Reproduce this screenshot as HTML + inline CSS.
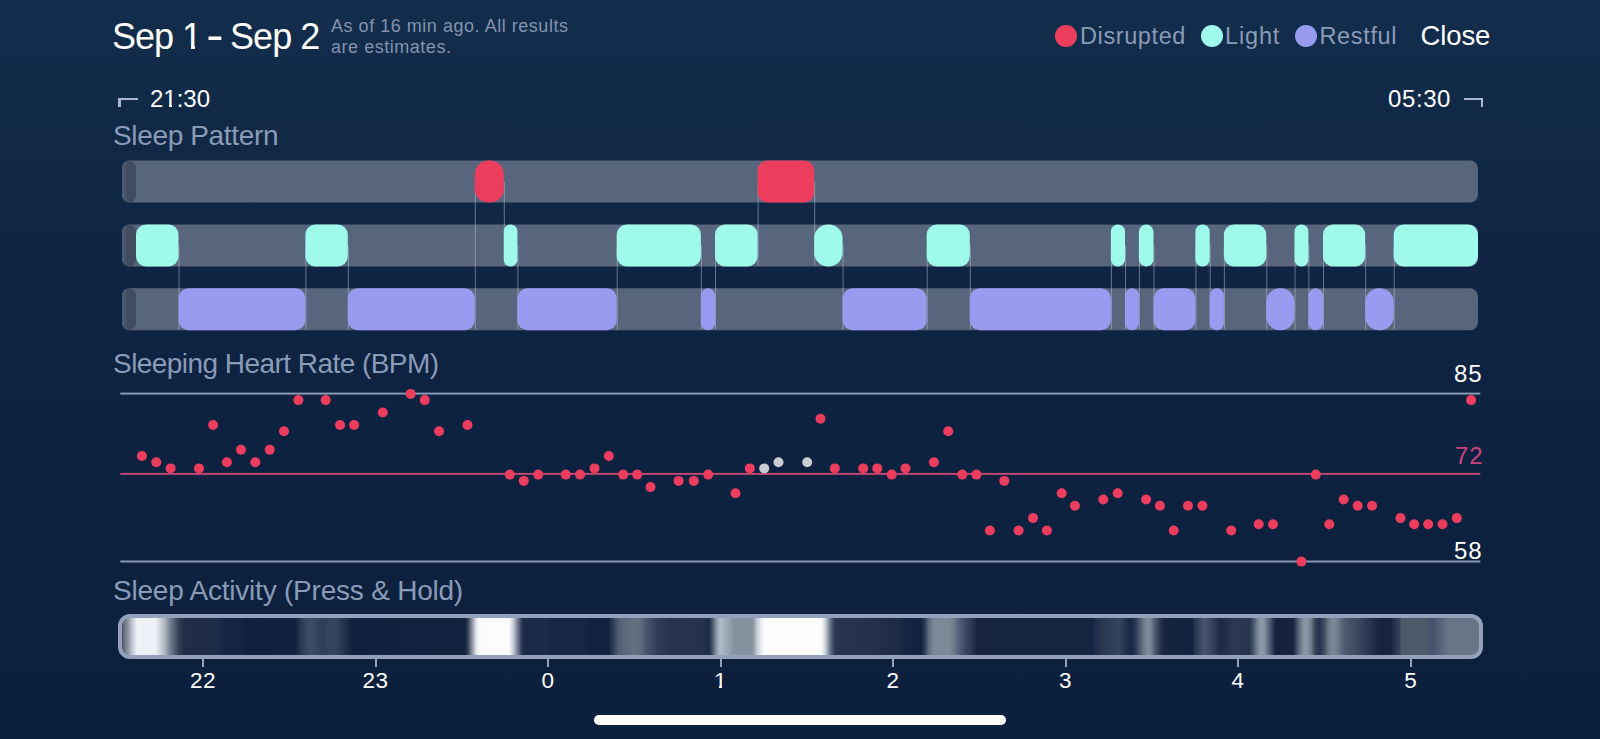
<!DOCTYPE html>
<html><head><meta charset="utf-8"><style>
html,body{margin:0;padding:0;}
body{width:1600px;height:739px;overflow:hidden;position:relative;background:linear-gradient(180deg,#132d4d 0%,#112a48 12%,#0f2543 35%,#0d2240 60%,#0c203d 100%);font-family:"Liberation Sans",sans-serif;}
.t{position:absolute;white-space:nowrap;line-height:1;}
.w{color:#ffffff;}
.g{color:#8a9bb8;}
.dot{position:absolute;border-radius:50%;width:22px;height:22px;top:25px;}
svg{position:absolute;left:0;top:0;}
.bar{position:absolute;left:117.5px;top:614px;width:1357px;height:37px;border:4px solid #94a1ba;border-radius:12px;background:linear-gradient(90deg,#4a4f5e 0.00%,#6e7382 0.18%,#8a8f9e 0.41%,#b0b5c2 0.63%,#d8dce6 0.92%,#eef1f6 1.11%,#eef0f5 2.47%,#e0e2ea 2.62%,#c5ccd4 2.91%,#a5aeba 3.21%,#848f9e 3.43%,#687588 3.65%,#4a586c 3.94%,#34425a 4.16%,#25334d 4.46%,#1f2d48 4.75%,#1f2d48 6.89%,#1b2a4a 7.26%,#142442 7.70%,#142442 8.73%,#0f1f3d 9.17%,#102040 12.79%,#1f2e4a 13.01%,#2e3d57 13.30%,#3a4962 13.67%,#3e4d66 13.96%,#374660 14.33%,#2f3e58 14.78%,#34435d 15.22%,#36455e 15.66%,#2e3c56 16.03%,#22304c 16.40%,#172643 16.76%,#0f203e 16.99%,#13223f 25.24%,#2a3850 25.46%,#6a7585 25.68%,#a8b0bc 25.90%,#e5e9ef 26.12%,#fafbfd 26.34%,#fcfcfd 28.48%,#e8ebef 28.63%,#c4cad3 28.85%,#8a93a3 29.07%,#56627a 29.29%,#2d3a53 29.44%,#1f2d4a 29.59%,#1b2a48 29.88%,#1b2a48 31.21%,#172746 31.58%,#172746 34.16%,#11213f 34.45%,#11213f 35.85%,#26344e 36.07%,#36445e 36.29%,#4e5b72 36.59%,#57647c 36.88%,#5d6a7c 37.25%,#627080 37.62%,#627080 37.99%,#58667a 38.36%,#4a5870 38.58%,#3e4c64 38.95%,#34425b 39.31%,#2c3a53 39.68%,#26344f 40.42%,#24324d 42.85%,#1d2a44 43.22%,#3a4860 43.44%,#6a7789 43.66%,#9aa6b6 43.88%,#b0bcc8 44.10%,#a5b0bd 44.40%,#9aa5b2 44.69%,#8a95a3 44.99%,#84909d 45.21%,#84909d 46.32%,#8f99a6 46.54%,#c0c6d0 46.76%,#dcdfe8 46.98%,#f3f4f8 47.20%,#fdfdfe 47.42%,#fdfdfe 51.47%,#eef2f5 51.62%,#c8d0d8 51.84%,#8a97a3 52.06%,#54627a 52.28%,#2e3b55 52.51%,#27344f 52.73%,#24314c 55.16%,#1c2a46 57.22%,#142442 57.74%,#12223f 58.84%,#1a2946 58.99%,#35455f 59.21%,#5a6a7d 59.43%,#6e7e8e 59.65%,#7a8a98 59.87%,#7b8996 61.05%,#758391 61.13%,#6b7888 61.35%,#5a6780 61.57%,#4c5a74 61.79%,#42506a 62.01%,#36445d 62.23%,#2e3c55 62.53%,#1f2d48 62.82%,#16243f 63.04%,#15253f 71.37%,#16264a 71.59%,#1d2c4a 71.74%,#273550 72.11%,#2b3a55 72.48%,#2f3e58 72.84%,#33425c 73.21%,#34435d 73.51%,#2a3852 73.80%,#1f2d4a 74.10%,#1a2848 74.39%,#2a3852 74.69%,#4a586f 74.98%,#6a7888 75.28%,#7e8b9a 75.57%,#7a8797 75.79%,#5a687c 76.01%,#3a4860 76.31%,#1f2d48 76.60%,#16243f 76.90%,#13223f 78.89%,#1f2d4a 78.96%,#2c3a55 79.18%,#3a4862 79.48%,#47556e 79.77%,#3d4b64 80.07%,#33415b 80.36%,#27354f 80.66%,#1d2b48 80.95%,#1f2d49 81.25%,#25334e 81.54%,#283650 81.83%,#2a3852 82.13%,#27354f 83.09%,#2f3d56 83.16%,#4a586d 83.38%,#6a788a 83.60%,#8593a3 83.82%,#8a98a8 84.05%,#7a8899 84.27%,#5a6880 84.49%,#3c4a63 84.71%,#1f2d48 84.93%,#15233f 85.08%,#15233f 86.26%,#23314c 86.40%,#4a586e 86.62%,#6a7888 86.85%,#8593a3 87.07%,#8a98a8 87.29%,#7a8899 87.51%,#6a7888 87.66%,#4a586e 87.80%,#2c3a54 88.03%,#26344e 88.25%,#33415b 88.47%,#4a586e 88.69%,#6a7888 88.91%,#7a8898 89.20%,#768494 89.43%,#6a7888 89.65%,#55637a 89.94%,#4a5870 90.24%,#44526a 90.53%,#3e4c64 90.90%,#36445e 91.27%,#2e3c56 91.64%,#24324d 92.00%,#1c2a46 92.37%,#16243f 92.74%,#16243f 93.48%,#1e2c48 93.63%,#2a3852 93.92%,#35435c 94.14%,#4a5868 94.29%,#4c5a6a 94.44%,#4c5a6a 96.06%,#49576c 96.28%,#45536c 96.50%,#485670 96.72%,#4f5d74 96.94%,#56647a 97.16%,#5f6d80 97.46%,#657385 97.75%,#677586 98.05%,#677586 100.04%);}
.tick{position:absolute;top:657px;width:2px;height:10px;background:#94a1ba;}
.tl{position:absolute;top:670.2px;width:60px;text-align:center;color:#fff;font-size:22.5px;letter-spacing:0.5px;line-height:22.5px;}
.home{position:absolute;left:594.2px;top:715.3px;width:411.4px;height:9.5px;border-radius:4.75px;background:#fff;}
.br{position:absolute;background:#abb6d2;}
</style></head><body>
<div class="t w" style="left:112px;top:18.5px;font-size:36px;letter-spacing:-1px;">Sep 1 <span style="display:inline-block;transform:translate(-1.4px,-2px) scale(1.45,1.25)">-</span> Sep 2</div>
<div class="t" style="left:331px;top:15.9px;font-size:18px;letter-spacing:0.53px;color:#8393b0;line-height:21.6px;">As of 16 min ago. All results<br>are estimates.</div>
<div class="dot" style="left:1055px;background:#ec3d5f"></div>
<div class="t g" style="left:1080px;top:24.9px;font-size:23.5px;letter-spacing:0.6px;">Disrupted</div>
<div class="dot" style="left:1201px;background:#a0faeb"></div>
<div class="t g" style="left:1225px;top:24.9px;font-size:23.5px;letter-spacing:0.85px;">Light</div>
<div class="dot" style="left:1295px;background:#989cf0"></div>
<div class="t g" style="left:1319.5px;top:24.9px;font-size:23.5px;letter-spacing:0.65px;">Restful</div>
<div class="t w" style="left:1420.5px;top:22px;font-size:27.5px;letter-spacing:-0.1px;">Close</div>

<div class="br" style="left:118.3px;top:98.2px;width:19.3px;height:1.8px"></div>
<div class="br" style="left:118.3px;top:98.2px;width:2.3px;height:8.6px"></div>
<div class="t w" style="left:150px;top:86.7px;font-size:24px;">21:30</div>
<div class="t w" style="left:1388px;top:86.7px;font-size:24px;letter-spacing:0.6px;">05:30</div>
<div class="br" style="left:1463.8px;top:98px;width:19.2px;height:1.8px"></div>
<div class="br" style="left:1480.7px;top:98px;width:2.3px;height:8.8px"></div>

<div class="t g" style="left:113px;top:121.9px;font-size:28px;letter-spacing:-0.35px;">Sleep Pattern</div>
<svg width="1600" height="739" viewBox="0 0 1600 739">
<defs><linearGradient id="capg" x1="0" x2="1" y1="0" y2="0"><stop offset="0" stop-color="#4d5a6f"/><stop offset="0.2" stop-color="#4b586d"/><stop offset="0.38" stop-color="#404c60"/><stop offset="1" stop-color="#3f4b5e"/></linearGradient></defs>
<rect x="122.0" y="160.5" width="1356.0" height="42" rx="8.0" fill="#57667c"/>
<rect x="122.0" y="160.5" width="14.0" height="42" rx="7.0" fill="url(#capg)"/>
<rect x="122.0" y="224.5" width="1356.0" height="42" rx="8.0" fill="#57667c"/>
<rect x="122.0" y="224.5" width="14.0" height="42" rx="7.0" fill="url(#capg)"/>
<rect x="122.0" y="288.3" width="1356.0" height="42" rx="8.0" fill="#57667c"/>
<rect x="122.0" y="288.3" width="14.0" height="42" rx="7.0" fill="url(#capg)"/>
<line x1="179.0" y1="245.5" x2="179.0" y2="329.3" stroke="rgba(205,214,228,0.45)" stroke-width="1"/>
<line x1="305.9" y1="245.5" x2="305.9" y2="329.3" stroke="rgba(205,214,228,0.45)" stroke-width="1"/>
<line x1="348.3" y1="245.5" x2="348.3" y2="329.3" stroke="rgba(205,214,228,0.45)" stroke-width="1"/>
<line x1="475.3" y1="181.5" x2="475.3" y2="329.3" stroke="rgba(205,214,228,0.45)" stroke-width="1"/>
<line x1="504.3" y1="181.5" x2="504.3" y2="265.5" stroke="rgba(205,214,228,0.45)" stroke-width="1"/>
<line x1="517.9" y1="245.5" x2="517.9" y2="329.3" stroke="rgba(205,214,228,0.45)" stroke-width="1"/>
<line x1="617.2" y1="245.5" x2="617.2" y2="329.3" stroke="rgba(205,214,228,0.45)" stroke-width="1"/>
<line x1="701.4" y1="245.5" x2="701.4" y2="329.3" stroke="rgba(205,214,228,0.45)" stroke-width="1"/>
<line x1="715.5" y1="245.5" x2="715.5" y2="329.3" stroke="rgba(205,214,228,0.45)" stroke-width="1"/>
<line x1="758.1" y1="181.5" x2="758.1" y2="265.5" stroke="rgba(205,214,228,0.45)" stroke-width="1"/>
<line x1="814.7" y1="181.5" x2="814.7" y2="265.5" stroke="rgba(205,214,228,0.45)" stroke-width="1"/>
<line x1="843.1" y1="245.5" x2="843.1" y2="329.3" stroke="rgba(205,214,228,0.45)" stroke-width="1"/>
<line x1="927.2" y1="245.5" x2="927.2" y2="329.3" stroke="rgba(205,214,228,0.45)" stroke-width="1"/>
<line x1="970.3" y1="245.5" x2="970.3" y2="329.3" stroke="rgba(205,214,228,0.45)" stroke-width="1"/>
<line x1="1111.4" y1="245.5" x2="1111.4" y2="329.3" stroke="rgba(205,214,228,0.45)" stroke-width="1"/>
<line x1="1125.5" y1="245.5" x2="1125.5" y2="329.3" stroke="rgba(205,214,228,0.45)" stroke-width="1"/>
<line x1="1139.4" y1="245.5" x2="1139.4" y2="329.3" stroke="rgba(205,214,228,0.45)" stroke-width="1"/>
<line x1="1154.0" y1="245.5" x2="1154.0" y2="329.3" stroke="rgba(205,214,228,0.45)" stroke-width="1"/>
<line x1="1195.9" y1="245.5" x2="1195.9" y2="329.3" stroke="rgba(205,214,228,0.45)" stroke-width="1"/>
<line x1="1210.2" y1="245.5" x2="1210.2" y2="329.3" stroke="rgba(205,214,228,0.45)" stroke-width="1"/>
<line x1="1224.4" y1="245.5" x2="1224.4" y2="329.3" stroke="rgba(205,214,228,0.45)" stroke-width="1"/>
<line x1="1266.8" y1="245.5" x2="1266.8" y2="329.3" stroke="rgba(205,214,228,0.45)" stroke-width="1"/>
<line x1="1295.0" y1="245.5" x2="1295.0" y2="329.3" stroke="rgba(205,214,228,0.45)" stroke-width="1"/>
<line x1="1308.9" y1="245.5" x2="1308.9" y2="329.3" stroke="rgba(205,214,228,0.45)" stroke-width="1"/>
<line x1="1323.5" y1="245.5" x2="1323.5" y2="329.3" stroke="rgba(205,214,228,0.45)" stroke-width="1"/>
<line x1="1365.7" y1="245.5" x2="1365.7" y2="329.3" stroke="rgba(205,214,228,0.45)" stroke-width="1"/>
<line x1="1394.2" y1="245.5" x2="1394.2" y2="329.3" stroke="rgba(205,214,228,0.45)" stroke-width="1"/>
<rect x="136.0" y="224.5" width="42.5" height="42" rx="10.0" fill="#a0faeb"/>
<rect x="178.5" y="288.3" width="126.9" height="42" rx="10.0" fill="#989cf0"/>
<rect x="305.4" y="224.5" width="42.4" height="42" rx="10.0" fill="#a0faeb"/>
<rect x="347.8" y="288.3" width="127.0" height="42" rx="10.0" fill="#989cf0"/>
<rect x="474.8" y="160.5" width="29.0" height="42" rx="13.6" fill="#ec3d5f"/>
<rect x="503.8" y="224.5" width="13.6" height="42" rx="6.8" fill="#a0faeb"/>
<rect x="517.4" y="288.3" width="99.3" height="42" rx="10.0" fill="#989cf0"/>
<rect x="616.7" y="224.5" width="84.2" height="42" rx="10.0" fill="#a0faeb"/>
<rect x="700.9" y="288.3" width="14.1" height="42" rx="7.1" fill="#989cf0"/>
<rect x="715.0" y="224.5" width="42.6" height="42" rx="10.0" fill="#a0faeb"/>
<rect x="757.6" y="160.5" width="56.6" height="42" rx="10.0" fill="#ec3d5f"/>
<rect x="814.2" y="224.5" width="28.4" height="42" rx="13.8" fill="#a0faeb"/>
<rect x="842.6" y="288.3" width="84.1" height="42" rx="10.0" fill="#989cf0"/>
<rect x="926.7" y="224.5" width="43.1" height="42" rx="10.0" fill="#a0faeb"/>
<rect x="969.8" y="288.3" width="141.1" height="42" rx="10.0" fill="#989cf0"/>
<rect x="1110.9" y="224.5" width="14.1" height="42" rx="7.0" fill="#a0faeb"/>
<rect x="1125.0" y="288.3" width="13.9" height="42" rx="7.0" fill="#989cf0"/>
<rect x="1138.9" y="224.5" width="14.6" height="42" rx="7.3" fill="#a0faeb"/>
<rect x="1153.5" y="288.3" width="41.9" height="42" rx="10.0" fill="#989cf0"/>
<rect x="1195.4" y="224.5" width="14.3" height="42" rx="7.1" fill="#a0faeb"/>
<rect x="1209.7" y="288.3" width="14.2" height="42" rx="7.1" fill="#989cf0"/>
<rect x="1223.9" y="224.5" width="42.4" height="42" rx="10.0" fill="#a0faeb"/>
<rect x="1266.3" y="288.3" width="28.2" height="42" rx="13.9" fill="#989cf0"/>
<rect x="1294.5" y="224.5" width="13.9" height="42" rx="7.0" fill="#a0faeb"/>
<rect x="1308.4" y="288.3" width="14.6" height="42" rx="7.3" fill="#989cf0"/>
<rect x="1323.0" y="224.5" width="42.2" height="42" rx="10.0" fill="#a0faeb"/>
<rect x="1365.2" y="288.3" width="28.5" height="42" rx="13.8" fill="#989cf0"/>
<rect x="1393.7" y="224.5" width="84.3" height="42" rx="10.0" fill="#a0faeb"/>
<rect x="120.3" y="392.6" width="1360" height="2" fill="#8a98b3"/>
<rect x="120.3" y="472.9" width="1360" height="2" fill="#bc4670"/>
<rect x="120.3" y="560.5" width="1360" height="2" fill="#8a98b3"/>
<circle cx="141.9" cy="456.0" r="5" fill="#ec3d5f"/>
<circle cx="156.3" cy="462.2" r="5" fill="#ec3d5f"/>
<circle cx="170.6" cy="468.4" r="5" fill="#ec3d5f"/>
<circle cx="199.0" cy="468.4" r="5" fill="#ec3d5f"/>
<circle cx="213.1" cy="425.0" r="5" fill="#ec3d5f"/>
<circle cx="226.9" cy="462.2" r="5" fill="#ec3d5f"/>
<circle cx="241.0" cy="449.8" r="5" fill="#ec3d5f"/>
<circle cx="255.3" cy="462.2" r="5" fill="#ec3d5f"/>
<circle cx="269.7" cy="449.8" r="5" fill="#ec3d5f"/>
<circle cx="284.0" cy="431.2" r="5" fill="#ec3d5f"/>
<circle cx="298.4" cy="400.1" r="5" fill="#ec3d5f"/>
<circle cx="325.7" cy="400.1" r="5" fill="#ec3d5f"/>
<circle cx="340.1" cy="425.0" r="5" fill="#ec3d5f"/>
<circle cx="354.1" cy="425.0" r="5" fill="#ec3d5f"/>
<circle cx="382.8" cy="412.5" r="5" fill="#ec3d5f"/>
<circle cx="410.7" cy="393.9" r="5" fill="#ec3d5f"/>
<circle cx="424.8" cy="400.1" r="5" fill="#ec3d5f"/>
<circle cx="439.1" cy="431.2" r="5" fill="#ec3d5f"/>
<circle cx="467.5" cy="425.0" r="5" fill="#ec3d5f"/>
<circle cx="509.8" cy="474.6" r="5" fill="#ec3d5f"/>
<circle cx="523.8" cy="480.9" r="5" fill="#ec3d5f"/>
<circle cx="538.2" cy="474.6" r="5" fill="#ec3d5f"/>
<circle cx="565.8" cy="474.6" r="5" fill="#ec3d5f"/>
<circle cx="580.1" cy="474.6" r="5" fill="#ec3d5f"/>
<circle cx="594.5" cy="468.4" r="5" fill="#ec3d5f"/>
<circle cx="608.8" cy="456.0" r="5" fill="#ec3d5f"/>
<circle cx="623.2" cy="474.6" r="5" fill="#ec3d5f"/>
<circle cx="637.2" cy="474.6" r="5" fill="#ec3d5f"/>
<circle cx="650.5" cy="487.1" r="5" fill="#ec3d5f"/>
<circle cx="678.6" cy="480.9" r="5" fill="#ec3d5f"/>
<circle cx="693.8" cy="480.9" r="5" fill="#ec3d5f"/>
<circle cx="708.2" cy="474.6" r="5" fill="#ec3d5f"/>
<circle cx="735.5" cy="493.3" r="5" fill="#ec3d5f"/>
<circle cx="749.8" cy="468.4" r="5" fill="#ec3d5f"/>
<circle cx="764.2" cy="468.4" r="5" fill="#c9ccd3"/>
<circle cx="778.5" cy="462.2" r="5" fill="#c9ccd3"/>
<circle cx="807.2" cy="462.2" r="5" fill="#c9ccd3"/>
<circle cx="820.5" cy="418.7" r="5" fill="#ec3d5f"/>
<circle cx="834.8" cy="468.4" r="5" fill="#ec3d5f"/>
<circle cx="863.2" cy="468.4" r="5" fill="#ec3d5f"/>
<circle cx="877.3" cy="468.4" r="5" fill="#ec3d5f"/>
<circle cx="891.7" cy="474.6" r="5" fill="#ec3d5f"/>
<circle cx="905.5" cy="468.4" r="5" fill="#ec3d5f"/>
<circle cx="933.9" cy="462.2" r="5" fill="#ec3d5f"/>
<circle cx="948.2" cy="431.2" r="5" fill="#ec3d5f"/>
<circle cx="962.3" cy="474.6" r="5" fill="#ec3d5f"/>
<circle cx="976.4" cy="474.6" r="5" fill="#ec3d5f"/>
<circle cx="989.9" cy="530.5" r="5" fill="#ec3d5f"/>
<circle cx="1004.3" cy="480.9" r="5" fill="#ec3d5f"/>
<circle cx="1018.6" cy="530.5" r="5" fill="#ec3d5f"/>
<circle cx="1033.0" cy="518.1" r="5" fill="#ec3d5f"/>
<circle cx="1046.9" cy="530.5" r="5" fill="#ec3d5f"/>
<circle cx="1061.7" cy="493.3" r="5" fill="#ec3d5f"/>
<circle cx="1074.9" cy="505.7" r="5" fill="#ec3d5f"/>
<circle cx="1103.3" cy="499.5" r="5" fill="#ec3d5f"/>
<circle cx="1117.7" cy="493.3" r="5" fill="#ec3d5f"/>
<circle cx="1146.1" cy="499.5" r="5" fill="#ec3d5f"/>
<circle cx="1159.9" cy="505.7" r="5" fill="#ec3d5f"/>
<circle cx="1173.7" cy="530.5" r="5" fill="#ec3d5f"/>
<circle cx="1188.0" cy="505.7" r="5" fill="#ec3d5f"/>
<circle cx="1202.4" cy="505.7" r="5" fill="#ec3d5f"/>
<circle cx="1231.2" cy="530.5" r="5" fill="#ec3d5f"/>
<circle cx="1258.7" cy="524.3" r="5" fill="#ec3d5f"/>
<circle cx="1273.0" cy="524.3" r="5" fill="#ec3d5f"/>
<circle cx="1301.4" cy="561.6" r="5" fill="#ec3d5f"/>
<circle cx="1315.8" cy="474.6" r="5" fill="#ec3d5f"/>
<circle cx="1329.3" cy="524.3" r="5" fill="#ec3d5f"/>
<circle cx="1343.7" cy="499.5" r="5" fill="#ec3d5f"/>
<circle cx="1357.7" cy="505.7" r="5" fill="#ec3d5f"/>
<circle cx="1372.1" cy="505.7" r="5" fill="#ec3d5f"/>
<circle cx="1400.5" cy="518.1" r="5" fill="#ec3d5f"/>
<circle cx="1414.2" cy="524.3" r="5" fill="#ec3d5f"/>
<circle cx="1428.2" cy="524.3" r="5" fill="#ec3d5f"/>
<circle cx="1442.5" cy="524.3" r="5" fill="#ec3d5f"/>
<circle cx="1456.8" cy="518.1" r="5" fill="#ec3d5f"/>
<circle cx="1471.1" cy="400.1" r="5" fill="#ec3d5f"/>
</svg>
<div class="t g" style="left:113px;top:350.3px;font-size:28px;letter-spacing:-0.55px;">Sleeping Heart Rate (BPM)</div>
<div class="t w" style="left:1454px;top:362.4px;font-size:24px;letter-spacing:1px;">85</div>
<div class="t" style="left:1455px;top:443.7px;font-size:24px;letter-spacing:1px;color:#c9447a;">72</div>
<div class="t w" style="left:1454px;top:539.3px;font-size:24px;letter-spacing:1px;">58</div>

<div class="t g" style="left:113px;top:577.1px;font-size:28px;letter-spacing:-0.22px;">Sleep Activity (Press &amp; Hold)</div>
<div class="bar"></div>
<div class="tick" style="left:202.0px"></div><div class="tl" style="left:173.0px">22</div><div class="tick" style="left:374.5px"></div><div class="tl" style="left:345.5px">23</div><div class="tick" style="left:547.0px"></div><div class="tl" style="left:518.0px">0</div><div class="tick" style="left:719.5px"></div><div class="tl" style="left:690.5px">1</div><div class="tick" style="left:892.0px"></div><div class="tl" style="left:863.0px">2</div><div class="tick" style="left:1064.5px"></div><div class="tl" style="left:1035.5px">3</div><div class="tick" style="left:1237.0px"></div><div class="tl" style="left:1208.0px">4</div><div class="tick" style="left:1409.8px"></div><div class="tl" style="left:1380.8px">5</div>
<div class="home"></div>
<div style="position:absolute;left:183.5px;top:45.6px;width:7.4px;height:3.6px;background:rgb(18,44,74)"></div>
<div style="position:absolute;left:194.7px;top:45.6px;width:7px;height:3.6px;background:rgb(18,44,74)"></div>
<div style="position:absolute;left:163.5px;top:104.6px;width:5.5px;height:2.6px;background:rgb(17,42,72)"></div>
<div style="position:absolute;left:171.6px;top:104.6px;width:5px;height:2.6px;background:rgb(17,42,72)"></div>
<div style="position:absolute;left:714.5px;top:685.6px;width:4.6px;height:2.6px;background:rgb(12,32,61)"></div>
<div style="position:absolute;left:721.9px;top:685.6px;width:4.6px;height:2.6px;background:rgb(12,32,61)"></div>
</body></html>
